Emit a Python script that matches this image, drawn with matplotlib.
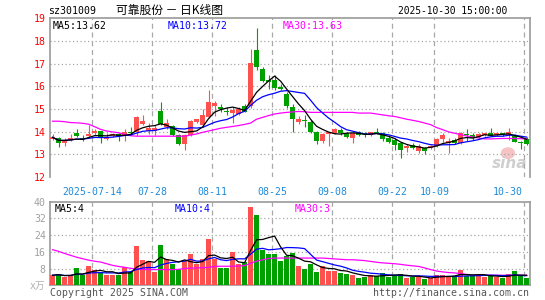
import matplotlib
matplotlib.use('Agg')
import matplotlib.pyplot as plt
import pandas as pd
from matplotlib.patches import Rectangle, Ellipse

plt.rcParams['font.family'] = ['DejaVu Sans Mono', 'Noto Sans CJK SC']

# trading days shown (2025-07-03 .. 2025-10-30)
dates = ['07-03', '07-04', '07-07', '07-08', '07-09', '07-10', '07-11',
         '07-14', '07-15', '07-16', '07-17', '07-18', '07-21', '07-22', '07-23', '07-24', '07-25',
         '07-28', '07-29', '07-30', '07-31', '08-01', '08-04', '08-05', '08-06', '08-07', '08-08',
         '08-11', '08-12', '08-13', '08-14', '08-15', '08-18', '08-19', '08-20', '08-21', '08-22',
         '08-25', '08-26', '08-27', '08-28', '08-29', '09-01', '09-02', '09-03', '09-04', '09-05',
         '09-08', '09-09', '09-10', '09-11', '09-12', '09-15', '09-16', '09-17', '09-18', '09-19',
         '09-22', '09-23', '09-24', '09-25', '09-26', '09-29', '09-30', '10-09', '10-10',
         '10-13', '10-14', '10-15', '10-16', '10-17', '10-20', '10-21', '10-22', '10-23', '10-24',
         '10-27', '10-28', '10-29', '10-30']

opens = [13.67, 13.72, 13.51, 13.63, 13.92, 13.74, 13.80, 13.92, 14.03, 13.67,
         13.80, 13.88, 13.86, 14.00, 13.98, 14.33, 14.04, 14.02, 14.90, 14.22,
         14.25, 13.85, 13.46, 13.86, 14.44, 14.30, 14.65, 15.13, 15.09, 14.93,
         14.83, 14.80, 15.12, 15.13, 17.62, 16.77, 16.30, 16.27, 15.98, 15.64,
         15.09, 14.43, 14.52, 14.43, 13.99, 13.58, 13.88, 13.92, 14.07, 13.92,
         13.70, 14.00, 13.92, 13.86, 13.99, 13.92, 13.73, 13.63, 13.48, 13.26,
         13.41, 13.16, 13.29, 13.27, 13.36, 13.67, 13.48, 13.63, 13.48, 13.86,
         13.85, 13.75, 13.85, 13.92, 13.85, 13.92, 13.85, 13.82, 13.55, 13.67]
highs = [13.88, 13.77, 13.70, 13.90, 14.10, 13.87, 14.29, 14.10, 14.05, 13.92,
         13.95, 13.95, 14.10, 14.20, 14.68, 14.75, 14.40, 14.28, 15.30, 14.55,
         14.30, 13.90, 13.90, 14.50, 14.58, 15.00, 15.83, 15.35, 15.20, 15.10,
         15.10, 15.10, 15.20, 17.66, 18.57, 16.83, 16.49, 16.50, 16.10, 15.75,
         15.20, 14.70, 14.73, 14.52, 14.05, 13.95, 14.00, 14.15, 14.15, 13.98,
         14.02, 14.02, 14.00, 14.00, 14.14, 14.00, 13.80, 13.70, 13.52, 13.45,
         13.48, 13.45, 13.32, 13.40, 13.70, 13.95, 13.70, 13.70, 14.00, 14.10,
         13.92, 13.95, 13.95, 14.14, 13.95, 13.95, 14.14, 13.88, 13.57, 13.75]
lows = [13.62, 13.33, 13.35, 13.60, 13.75, 13.60, 13.76, 13.87, 13.48, 13.62,
        13.75, 13.60, 13.60, 13.85, 13.80, 14.30, 13.88, 13.85, 14.30, 14.12,
        13.80, 13.42, 13.20, 13.80, 14.40, 14.20, 14.60, 14.69, 14.85, 14.75,
        14.40, 14.75, 14.85, 15.05, 16.71, 16.17, 15.86, 15.85, 15.85, 15.03,
        14.00, 14.35, 14.20, 13.95, 13.45, 13.50, 13.38, 13.88, 13.85, 13.70,
        13.48, 13.80, 13.78, 13.80, 13.88, 13.60, 13.50, 13.19, 12.85, 13.10,
        13.25, 13.07, 13.03, 13.22, 13.33, 13.55, 13.07, 13.45, 13.45, 13.60,
        13.63, 13.70, 13.80, 13.80, 13.80, 13.80, 13.63, 13.55, 13.23, 13.40]
closes = [13.75, 13.48, 13.61, 13.70, 13.82, 13.68, 13.89, 14.03, 13.70, 13.78,
          13.90, 13.80, 14.00, 13.93, 14.66, 14.46, 14.14, 14.14, 14.32, 14.37,
          13.85, 13.45, 13.85, 14.47, 14.54, 14.72, 15.30, 15.27, 15.02, 14.88,
          14.95, 14.98, 14.86, 17.03, 16.86, 16.24, 16.20, 15.93, 15.90, 15.13,
          14.58, 14.55, 14.48, 14.00, 13.58, 13.88, 13.97, 14.11, 13.93, 13.77,
          13.95, 13.87, 13.88, 13.98, 13.90, 13.66, 13.55, 13.41, 13.19, 13.38,
          13.30, 13.35, 13.15, 13.37, 13.66, 13.85, 13.58, 13.48, 13.95, 13.84,
          13.73, 13.89, 13.92, 13.82, 13.92, 13.86, 13.99, 13.55, 13.48, 13.44]
# volume, in 10k lots
volumes = [4.8, 5.3, 3.9, 4.8, 8.1, 4.8, 9.1, 7.2, 6.4, 4.8,
           4.8, 4.8, 8.5, 6.4, 18.6, 11.9, 11.6, 6.4, 19.0, 12.4,
           10.0, 7.7, 11.5, 14.8, 10.0, 12.7, 21.9, 12.7, 8.3, 8.3,
           15.9, 10.4, 11.1, 37.5, 33.7, 16.7, 14.8, 14.8, 11.6, 13.8,
           15.4, 9.1, 7.8, 10.0, 6.4, 9.1, 6.9, 6.9, 5.9, 5.3,
           4.7, 3.5, 4.0, 5.0, 4.5, 5.8, 4.2, 5.0, 5.5, 3.3,
           3.8, 4.0, 3.0, 3.5, 5.0, 5.0, 4.5, 4.2, 7.2, 4.5,
           4.5, 5.0, 4.0, 4.5, 4.0, 3.5, 5.6, 6.7, 4.4, 3.7]
# 30-day averages (need history before the window)
ma30_price = [14.46, 14.46, 14.44, 14.40, 14.39, 14.37, 14.33, 14.22, 14.10, 14.03,
              13.99, 13.95, 13.88, 13.82, 13.80, 13.80, 13.80, 13.80, 13.80, 13.80,
              13.80, 13.80, 13.80, 13.85, 13.90, 13.97, 14.03, 14.09, 14.15, 14.19,
              14.23, 14.27, 14.32, 14.38, 14.55, 14.63, 14.71, 14.78, 14.82, 14.85,
              14.87, 14.89, 14.88, 14.85, 14.85, 14.85, 14.85, 14.85, 14.85, 14.85,
              14.85, 14.82, 14.82, 14.82, 14.78, 14.74, 14.70, 14.67, 14.61, 14.55,
              14.50, 14.45, 14.38, 14.31, 14.18, 14.09, 13.99, 13.93, 13.87, 13.81,
              13.76, 13.72, 13.68, 13.68, 13.69, 13.70, 13.70, 13.70, 13.69, 13.68]
ma30_vol = [17.0, 16.2, 15.2, 14.3, 13.4, 12.7, 12.0, 11.5, 11.1, 10.3,
            9.5, 9.0, 8.6, 8.1, 7.8, 7.6, 7.5, 7.5, 7.5, 7.5,
            7.5, 7.6, 8.0, 8.2, 8.3, 8.4, 8.6, 9.0, 9.1, 9.1,
            9.1, 9.2, 9.4, 10.5, 11.5, 12.2, 12.8, 13.0, 13.0, 13.0,
            13.0, 13.0, 13.0, 13.0, 13.0, 13.0, 12.8, 12.6, 12.4, 12.2,
            12.2, 12.0, 11.8, 11.4, 11.0, 10.7, 10.5, 10.3, 10.0, 9.6,
            9.3, 9.0, 8.3, 7.5, 6.8, 6.4, 6.1, 5.9, 5.6, 5.2,
            4.9, 4.8, 4.8, 4.8, 4.8, 4.8, 4.8, 4.8, 4.8, 4.8]

tick_dates = ['07-14', '07-28', '08-11', '08-25', '09-08', '09-22', '10-09', '10-30']
tick_labels = ['2025-07-14', '07-28', '08-11', '08-25', '09-08', '09-22', '10-09', '10-30']
price_ticks = [12, 13, 14, 15, 16, 17, 18, 19]
vol_ticks = [8, 16, 24, 32, 40]

RED = '#ff5050'
GREEN = '#00a000'
GRID = '#a8a8a8'
FRAME = '#999999'
DATE_C = '#1f8ad8'
FS = 7.1

n = len(dates)
x = list(range(n))
df = pd.DataFrame({'o': opens, 'h': highs, 'l': lows, 'c': closes, 'v': volumes})
ma5 = df['c'].rolling(5, min_periods=1).mean()
ma10 = df['c'].rolling(10, min_periods=1).mean()
vma5 = df['v'].rolling(5, min_periods=1).mean()
vma10 = df['v'].rolling(10, min_periods=1).mean()
tick_x = [dates.index(d) - 0.38 for d in tick_dates]

W, H = 545, 300
fig = plt.figure(figsize=(W / 100, H / 100), dpi=100)


def box(l, t, r, b):
    return [l / W, 1 - b / H, (r - l) / W, (b - t) / H]


ax = fig.add_axes(box(50, 18.3, 529.5, 177))
axv = fig.add_axes(box(50, 201.5, 529.5, 285.3))
xlim = (-0.43, 79.48)

# price panel
for i in x:
    o, h, l, c = opens[i], highs[i], lows[i], closes[i]
    col = RED if c >= o else GREEN
    ax.plot([i, i], [l, h], color=col, lw=0.8, zorder=3, solid_capstyle='butt')
    bot = min(o, c)
    hgt = max(abs(c - o), 0.04)
    ax.add_patch(Rectangle((i - 0.4, bot), 0.8, hgt, color=col, lw=0, zorder=4))
ax.plot(x, ma30_price, color='#ff00ff', lw=0.9, zorder=5)
ax.plot(x, ma10, color='#0000ff', lw=0.9, zorder=5)
ax.plot(x, ma5, color='black', lw=0.9, zorder=5)
ax.set_xlim(*xlim)
ax.set_ylim(12, 19)
for p in price_ticks[1:-1]:
    ax.axhline(p, color=GRID, lw=0.9, ls=(0, (1, 2)), zorder=1)
for tx in tick_x:
    ax.axvline(tx, color=GRID, lw=0.9, ls=(0, (4, 3)), zorder=1)
ax.set_yticks(price_ticks[:-1])
ax.set_yticklabels([str(p) for p in price_ticks[:-1]], color='red', fontsize=FS)
ax.set_xticks([])
ax.tick_params(axis='y', length=0, pad=3)
for s in ['left', 'right', 'top']:
    ax.spines[s].set_color(FRAME)
    ax.spines[s].set_linewidth(1.2)
ax.spines['bottom'].set_visible(False)
for tx, lab in zip(tick_x, tick_labels):
    ha = 'right' if lab == tick_labels[-1] else 'center'
    off = -0.3 if ha == 'right' else 0
    ax.text(tx + off, -0.06, lab, transform=ax.get_xaxis_transform(), ha=ha, va='top',
            color=DATE_C, fontsize=FS)
ax.text(0.005, 0.985, 'MA5:13.62', transform=ax.transAxes, ha='left', va='top', fontsize=FS, color='black')
ax.text(0.245, 0.985, 'MA10:13.72', transform=ax.transAxes, ha='left', va='top', fontsize=FS, color='#0000ff')
ax.text(0.485, 0.985, 'MA30:13.63', transform=ax.transAxes, ha='left', va='top', fontsize=FS, color='#ff00ff')
# sina watermark
ax.add_patch(Ellipse((0.955, 0.15), 0.03, 0.075, transform=ax.transAxes,
                     facecolor='#f6c4c4', edgecolor='none', zorder=0))
ax.text(0.995, 0.035, 'sina', transform=ax.transAxes, ha='right', va='bottom', fontsize=11,
        color='#cfcfcf', style='italic', fontweight='bold', family='DejaVu Sans', zorder=0)

# volume panel
for i in x:
    col = RED if closes[i] >= opens[i] else GREEN
    axv.bar(i, volumes[i], width=0.82, color=col, lw=0, zorder=3)
axv.plot(x, ma30_vol, color='#ff00ff', lw=0.9, zorder=5)
axv.plot(x, vma10, color='#0000ff', lw=0.9, zorder=5)
axv.plot(x, vma5, color='black', lw=0.9, zorder=5)
axv.set_xlim(*xlim)
axv.set_ylim(0, 40)
for v in vol_ticks[:-1]:
    axv.axhline(v, color=GRID, lw=0.9, ls=(0, (1, 2)), zorder=1)
for tx in tick_x:
    axv.axvline(tx, color=GRID, lw=0.9, ls=(0, (4, 3)), zorder=1)
axv.set_yticks(vol_ticks)
axv.set_yticklabels([str(v) for v in vol_ticks], color='#a0a0a0', fontsize=FS)
axv.set_xticks([])
axv.tick_params(axis='y', length=0, pad=3)
for s in axv.spines.values():
    s.set_color(FRAME)
    s.set_linewidth(1.2)
axv.text(0.01, 0.97, 'MA5:4', transform=axv.transAxes, ha='left', va='top', fontsize=FS, color='black')
axv.text(0.26, 0.97, 'MA10:4', transform=axv.transAxes, ha='left', va='top', fontsize=FS, color='#0000ff')
axv.text(0.51, 0.97, 'MA30:3', transform=axv.transAxes, ha='left', va='top', fontsize=FS, color='#ff00ff')

# header / footer texts
fig.text(48 / W, 1 - 10.5 / H, 'sz301009', ha='left', va='center', fontsize=FS, color='black')
fig.text(116 / W, 1 - 10.5 / H, '可靠股份 － 日K线图', ha='left', va='center', fontsize=8.5,
         color='black', family=['Noto Sans CJK SC', 'DejaVu Sans'])
fig.text(507 / W, 1 - 11.5 / H, '2025-10-30 15:00:00', ha='right', va='center', fontsize=6.9, color='black')
fig.text(46 / W, 1 - 18.5 / H, '19', ha='right', va='center', fontsize=FS, color='red')
fig.text(45 / W, 1 - 286 / H, 'x万', ha='right', va='center', fontsize=7, color='#b0b0b0',
         family=['DejaVu Sans Mono', 'Noto Sans CJK SC'])
fig.text(50 / W, 1 - 292.5 / H, 'Copyright 2025 SINA.COM', ha='left', va='center', fontsize=FS, color='#555555')
fig.text(529 / W, 1 - 292.5 / H, 'http://finance.sina.com.cn', ha='right', va='center', fontsize=FS, color='#555555')

fig.savefig('out.png', dpi=100)
